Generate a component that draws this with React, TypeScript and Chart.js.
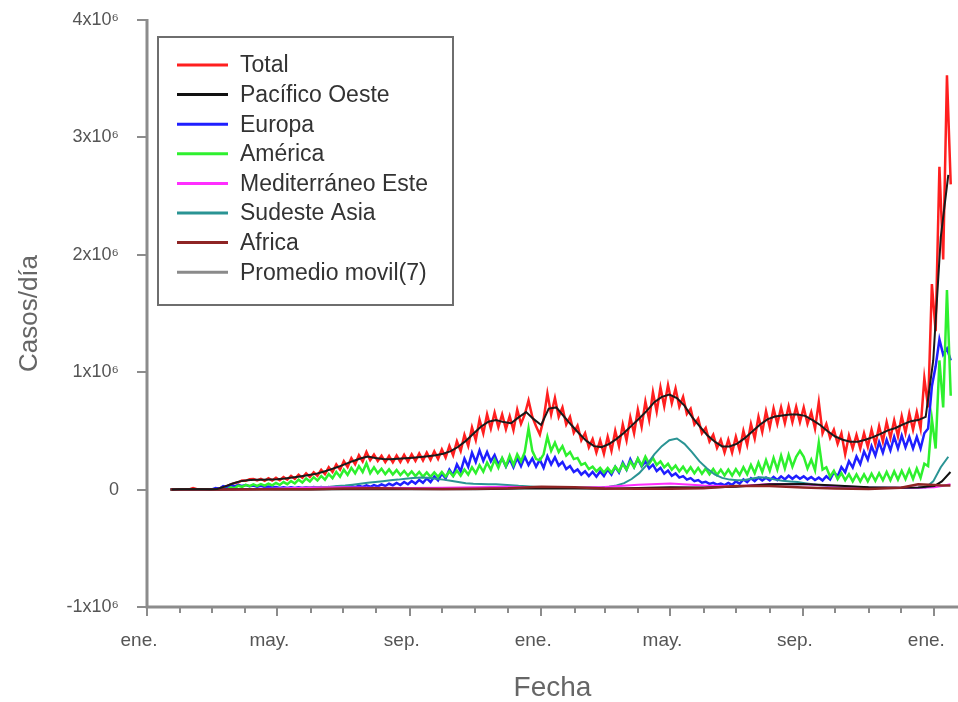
import React, { useEffect, useRef } from 'react';
import { Chart, registerables } from 'chart.js';

Chart.register(...registerables);

// ---------------- DATA (values in thousands of cases/day) ----------------
// Day index 0 = 1 Jan 2020. Weekly blocks start at firstWeekDay; each week has an
// early-week sample (A) and a late-week sample (B) to show the weekly reporting swing.
const firstWeekDay = 20;

const totalA = [
  1, 2, 4, 14, 3, 2, 4, 20, 45, 62,
  75, 90, 92, 96, 100, 106, 116, 126, 138, 148,
  168, 190, 214, 242, 268, 292, 320, 298, 288, 286,
  290, 296, 300, 308, 316, 326, 342, 372, 412, 466,
  530, 596, 642, 656, 640, 626, 680, 640, 620, 470,
  820, 780, 700, 620, 545, 480, 430, 420, 450, 500,
  555, 615, 680, 750, 830, 870, 890, 860, 790, 690,
  605, 525, 468, 425, 425, 450, 500, 560, 620, 668,
  690, 700, 710, 705, 700, 660, 745, 560, 510, 480,
  460, 465, 480, 510, 540, 575, 590, 625, 650, 660,
  950, 1750, 2750, 3530,
];
const totalB = [
  2, 3, 2, 3, 1, 3, 9, 30, 55, 78,
  88, 78, 75, 78, 80, 84, 92, 100, 108, 118,
  132, 150, 170, 192, 216, 240, 250, 244, 234, 232,
  236, 238, 244, 248, 254, 262, 272, 292, 328, 372,
  422, 480, 520, 532, 515, 506, 560, 760, 540, 600,
  640, 620, 555, 485, 420, 360, 315, 305, 330, 370,
  420, 480, 535, 595, 665, 710, 735, 705, 645, 555,
  480, 410, 355, 315, 315, 335, 380, 435, 490, 530,
  560, 565, 575, 575, 560, 520, 480, 440, 390, 300,
  350, 350, 365, 385, 410, 440, 455, 485, 510, 520,
  700, 1350, 1960, 2600,
];
const movingAverage7 = [
  1, 2, 3, 3, 2, 2, 6, 25, 50, 70,
  80, 84, 83, 86, 89, 94, 103, 112, 122, 132,
  150, 170, 192, 217, 242, 265, 282, 270, 260, 258,
  262, 266, 271, 277, 284, 292, 305, 328, 365, 415,
  475, 535, 578, 592, 575, 565, 615, 660, 600, 550,
  690, 700, 625, 550, 480, 415, 370, 362, 388, 432,
  485, 545, 605, 670, 745, 790, 810, 780, 715, 620,
  540, 465, 410, 368, 368, 392, 438, 495, 552, 598,
  622, 632, 640, 640, 628, 592, 550, 497, 452, 425,
  408, 408, 425, 447, 475, 505, 525, 555, 582, 592,
  620, 1100, 2150, 2680,
];
const europaA = [
  0, 0, 0, 0, 1, 4, 14, 30, 38, 40,
  38, 35, 32, 26, 22, 20, 20, 19, 20, 21,
  21, 22, 24, 26, 30, 33, 36, 39, 45, 50,
  57, 65, 73, 82, 95, 112, 135, 170, 215, 265,
  315, 335, 320, 295, 265, 260, 270, 280, 265, 255,
  285, 275, 235, 200, 172, 155, 150, 155, 172, 195,
  230, 258, 262, 240, 212, 185, 162, 138, 115, 98,
  81, 67, 58, 52, 56, 70, 86, 97, 102, 102,
  108, 113, 118, 118, 113, 108, 102, 114, 148, 192,
  242, 282, 325, 370, 405, 425, 450, 460, 450, 450,
  480, 880, 1280, 1200,
];
const europaB = [
  0, 0, 0, 0, 0, 2, 7, 20, 28, 30,
  28, 25, 22, 18, 14, 14, 14, 13, 14, 15,
  15, 16, 16, 18, 20, 23, 24, 27, 31, 36,
  39, 45, 51, 58, 65, 78, 95, 120, 155, 195,
  235, 245, 240, 215, 195, 190, 200, 210, 195, 185,
  215, 205, 175, 150, 128, 115, 110, 115, 128, 145,
  170, 192, 198, 180, 158, 135, 118, 102, 85, 72,
  59, 49, 42, 38, 40, 50, 64, 73, 78, 78,
  82, 87, 92, 92, 87, 82, 78, 86, 112, 148,
  188, 218, 255, 290, 315, 335, 350, 360, 350, 350,
  520, 1050, 1150, 1100,
];
const americaA = [
  0, 0, 0, 0, 0, 0, 1, 7, 19, 33,
  40, 44, 46, 50, 56, 64, 72, 84, 95, 106,
  116, 132, 150, 170, 185, 200, 225, 190, 178, 172,
  166, 160, 155, 150, 147, 147, 150, 155, 162, 172,
  190, 208, 230, 255, 270, 290, 300, 320, 330, 250,
  450, 400, 370, 320, 270, 225, 195, 185, 185, 195,
  220, 240, 265, 280, 270, 240, 220, 205, 195, 190,
  185, 180, 175, 170, 170, 175, 190, 210, 230, 250,
  270, 290, 295, 280, 280, 255, 400, 190, 160, 140,
  130, 130, 130, 135, 140, 150, 155, 160, 170, 180,
  220, 600, 1100, 1700,
];
const americaB = [
  0, 0, 0, 0, 0, 0, 0, 3, 11, 23,
  30, 32, 34, 36, 40, 46, 52, 60, 69, 78,
  84, 98, 110, 126, 139, 150, 140, 140, 132, 128,
  124, 120, 115, 110, 109, 109, 110, 115, 118, 128,
  140, 152, 170, 185, 200, 210, 240, 520, 260, 300,
  330, 320, 290, 260, 210, 175, 155, 145, 145, 155,
  170, 190, 205, 220, 210, 190, 170, 155, 145, 140,
  135, 130, 125, 120, 120, 125, 130, 140, 150, 160,
  170, 180, 195, 330, 180, 165, 170, 110, 90, 80,
  70, 70, 70, 75, 80, 80, 85, 90, 90, 100,
  200, 350, 700, 800,
];
const sudesteAsia = [
  0, 0, 0, 0, 0, 0, 0, 0, 1, 2,
  3, 4, 5, 6, 7, 9, 11, 14, 17, 20,
  22, 25, 30, 35, 42, 50, 58, 65, 72, 80,
  85, 92, 98, 103, 100, 92, 85, 75, 65, 55,
  50, 48, 46, 45, 42, 38, 32, 28, 25, 22,
  22, 20, 18, 16, 16, 17, 17, 20, 25, 35,
  55, 90, 140, 210, 300, 370, 420, 435, 390, 320,
  240, 180, 130, 100, 85, 80, 82, 95, 105, 100,
  85, 75, 70, 65, 55, 45, 38, 30, 25, 22,
  20, 18, 18, 17, 16, 15, 15, 14, 14, 15,
  18, 70, 190, 280,
];

// Smaller regions, read roughly once a month
const sparseDays = [22, 45, 60, 91, 121, 152, 182, 213, 244, 274, 305, 335, 366, 397, 425, 456, 486, 517, 547, 578, 609, 639, 670, 700, 716, 731, 738, 746];
const pacificoOeste = [0, 5, 1, 2, 1, 1, 2, 4, 3, 3, 4, 8, 12, 9, 8, 13, 20, 18, 25, 45, 48, 35, 20, 16, 18, 30, 70, 150];
const mediterraneoEste = [0, 0, 1, 4, 9, 17, 20, 16, 14, 15, 20, 25, 17, 15, 22, 42, 52, 35, 28, 48, 45, 30, 17, 15, 16, 20, 30, 45];
const africa = [0, 0, 0, 1, 2, 4, 9, 12, 8, 6, 8, 12, 25, 20, 10, 8, 8, 12, 30, 30, 18, 10, 6, 15, 45, 40, 35, 35];

// X axis: month starts (Jan 2020 .. Jan 2022), labelled every four months
const monthStartDays = [0, 31, 60, 91, 121, 152, 182, 213, 244, 274, 305, 335, 366, 397, 425, 456, 486, 517, 547, 578, 609, 639, 670, 700, 731];
const monthLabels = ['ene.', '', '', '', 'may.', '', '', '', 'sep.', '', '', '', 'ene.', '', '', '', 'may.', '', '', '', 'sep.', '', '', '', 'ene.'];
const xMin = 0;
const xMax = 753;

const yTickValues = [-1e6, 0, 1e6, 2e6, 3e6, 4e6];

// ---------------- helpers ----------------
const FONT = "'Liberation Sans', Arial, Helvetica, sans-serif";

function halfWeekPoints(a: number[], b: number[]) {
  const pts: { x: number; y: number }[] = [];
  for (let i = 0; i < a.length; i++) {
    pts.push({ x: firstWeekDay + 7 * i + 1.75, y: a[i] * 1000 });
    pts.push({ x: firstWeekDay + 7 * i + 5.25, y: b[i] * 1000 });
  }
  return pts;
}
function weeklyPoints(v: number[]) {
  return v.map((val, i) => ({ x: firstWeekDay + 7 * i + 3, y: val * 1000 }));
}
function sparsePoints(v: number[]) {
  return v.map((val, i) => ({ x: sparseDays[i], y: val * 1000 }));
}

const customPlugin = {
  id: 'customAxesLegend',
  afterDraw(chart: any) {
    const { ctx, chartArea: ca, scales } = chart;
    const x = scales.x;
    const y = scales.y;
    ctx.save();
    // axis lines
    ctx.strokeStyle = '#8c8c8c';
    ctx.lineWidth = 3;
    ctx.beginPath();
    ctx.moveTo(ca.left, y.getPixelForValue(4e6) - 1);
    ctx.lineTo(ca.left, ca.bottom);
    ctx.lineTo(ca.right, ca.bottom);
    ctx.stroke();
    // y ticks
    ctx.lineWidth = 2;
    ctx.beginPath();
    yTickValues.forEach((v) => {
      const py = Math.round(y.getPixelForValue(v));
      ctx.moveTo(ca.left - 10, py);
      ctx.lineTo(ca.left, py);
    });
    ctx.stroke();
    // x ticks
    ctx.beginPath();
    monthStartDays.forEach((d, i) => {
      const px = Math.round(x.getPixelForValue(d));
      const len = monthLabels[i] ? 9 : 6;
      ctx.moveTo(px, ca.bottom);
      ctx.lineTo(px, ca.bottom + len);
    });
    ctx.stroke();

    // legend
    const lx = ca.left + 11;
    const ly = ca.top + 17;
    const lw = 295;
    const lh = 268;
    ctx.fillStyle = '#ffffff';
    ctx.fillRect(lx, ly, lw, lh);
    ctx.strokeStyle = '#6e6e6e';
    ctx.lineWidth = 2;
    ctx.strokeRect(lx, ly, lw, lh);
    ctx.font = `23px ${FONT}`;
    ctx.textBaseline = 'middle';
    ctx.textAlign = 'left';
    chart.data.datasets.forEach((ds: any, k: number) => {
      const yy = ly + 28 + k * 29.6;
      ctx.strokeStyle = ds.legendColor || ds.borderColor;
      ctx.lineWidth = 3;
      ctx.beginPath();
      ctx.moveTo(lx + 19, yy);
      ctx.lineTo(lx + 70, yy);
      ctx.stroke();
      ctx.fillStyle = '#333333';
      ctx.fillText(ds.label, lx + 82, yy + 1);
    });
    ctx.restore();
  },
};

export default function App() {
  const ref = useRef<HTMLCanvasElement | null>(null);

  useEffect(() => {
    document.body.style.margin = '0';
    const canvas = ref.current;
    if (!canvas) return;
    const common = { pointRadius: 0, pointHoverRadius: 0, tension: 0, fill: false };
    const chart = new Chart(canvas, {
      type: 'line',
      data: {
        datasets: [
          { ...common, label: 'Total', data: halfWeekPoints(totalA, totalB), borderColor: '#ff1f1f', borderWidth: 2.5, order: 7 },
          { ...common, label: 'Pacífico Oeste', data: sparsePoints(pacificoOeste), borderColor: '#111111', borderWidth: 2, order: 2 },
          { ...common, label: 'Europa', data: halfWeekPoints(europaA, europaB), borderColor: '#1f1fff', borderWidth: 2.5, order: 6 },
          { ...common, label: 'América', data: halfWeekPoints(americaA, americaB), borderColor: '#2ef02e', borderWidth: 2.5, order: 5 },
          { ...common, label: 'Mediterráneo Este', data: sparsePoints(mediterraneoEste), borderColor: '#ff2eff', borderWidth: 2, order: 3 },
          { ...common, label: 'Sudeste Asia', data: weeklyPoints(sudesteAsia), borderColor: '#2a9494', borderWidth: 2, order: 4 },
          { ...common, label: 'Africa', data: sparsePoints(africa), borderColor: '#8e2424', borderWidth: 2.5, order: 1 },
          { ...common, label: 'Promedio movil(7)', data: weeklyPoints(movingAverage7), borderColor: '#1a1a1a', legendColor: '#8a8a8a', borderWidth: 2, order: 0 } as any,
        ],
      },
      options: {
        responsive: false,
        animation: false,
        parsing: true,
        layout: { padding: { top: 20, right: 0, left: 0, bottom: 0 } },
        plugins: { legend: { display: false }, tooltip: { enabled: false } },
        scales: {
          x: {
            type: 'linear',
            min: xMin,
            max: xMax,
            afterBuildTicks: (scale: any) => {
              scale.ticks = monthStartDays.map((v) => ({ value: v }));
            },
            afterFit: (scale: any) => {
              scale.height = 95;
              scale.paddingLeft = 0;
              scale.paddingRight = 0;
            },
            ticks: {
              autoSkip: false,
              maxRotation: 0,
              minRotation: 0,
              labelOffset: -8,
              padding: 22,
              color: '#555555',
              font: { family: FONT, size: 19 },
              callback: (_v: any, index: number) => monthLabels[index] ?? '',
            },
            grid: { display: false, drawTicks: false },
            border: { display: false },
            title: {
              display: true,
              text: 'Fecha',
              color: '#666666',
              font: { family: FONT, size: 28, lineHeight: 1 },
              padding: { top: 0, bottom: 0 },
            },
          },
          y: {
            type: 'linear',
            min: -1e6,
            max: 4e6,
            afterFit: (scale: any) => {
              scale.width = 147;
              scale.paddingTop = 0;
              scale.paddingBottom = 0;
            },
            ticks: {
              stepSize: 1e6,
              padding: 28,
              color: '#555555',
              font: { family: FONT, size: 18 },
              callback: (v: any) => (v === 0 ? '0' : `${v / 1e6}x10⁶`),
            },
            grid: { display: false, drawTicks: false },
            border: { display: false },
            title: {
              display: true,
              text: 'Casos/día',
              color: '#666666',
              font: { family: FONT, size: 26 },
              padding: { top: 14, bottom: 0 },
            },
          },
        },
      } as any,
      plugins: [customPlugin],
    });
    return () => chart.destroy();
  }, []);

  return (
    <div style={{ width: 958, height: 702 }}>
      <canvas ref={ref} width={958} height={702} style={{ display: 'block' }} />
    </div>
  );
}
